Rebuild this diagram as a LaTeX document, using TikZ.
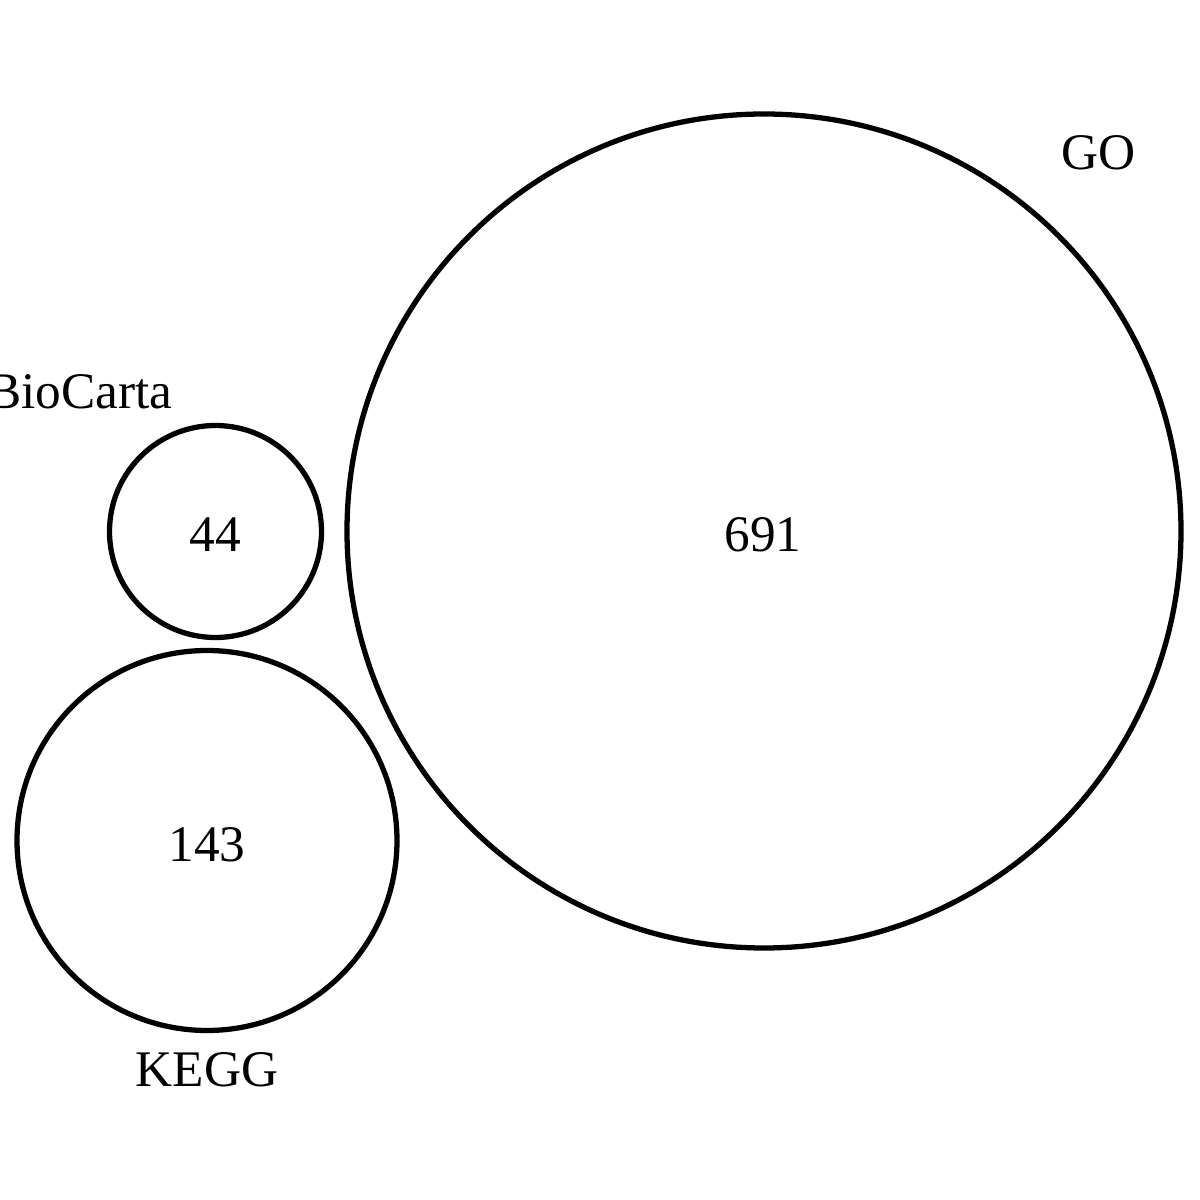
\documentclass[tikz,border=0pt]{standalone}
\usepackage{fontspec}
\setmainfont{Liberation Serif}
\usepackage{tikz}

\begin{document}
\begin{tikzpicture}
      \useasboundingbox (0, 0) rectangle (12, 12);
      \tikzset{
        setcircle/.style={draw, circle, line width=1.5pt, inner sep=0pt},
        setlabel/.style={anchor=base, inner sep=0pt, font=\fontsize{14.6}{17}\selectfont}
      }

      \node[setcircle, minimum size=8.34cm] (go) at (7.64, 6.69) {};
      \node[setcircle, minimum size=2.12cm] (biocarta) at (2.155, 6.685) {};
      \node[setcircle, minimum size=3.80cm] (kegg) at (2.07, 3.595) {};

      \node[setlabel] (gonum) at (7.63, 6.48) {691};
      \node[setlabel] (biocartanum) at (2.155, 6.48) {44};
      \node[setlabel] (keggnum) at (2.07, 3.38) {143};

      \node[setlabel] (goname) at (10.99, 10.30) {GO};
      \node[setlabel] (biocartaname) at (0.80, 7.91) {BioCarta};
      \node[setlabel] (keggname) at (2.07, 1.13) {KEGG};

    \end{tikzpicture}
\end{document}
